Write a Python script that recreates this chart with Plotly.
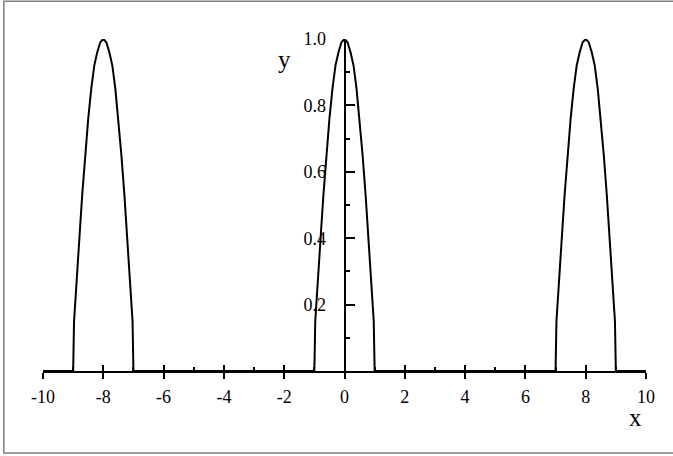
import plotly.graph_objects as go

# peaks: three identical bumps, each one unit wide on either side
peak_centers = [-8, 0, 8]
bump_dx = [-1.0, -0.97, -0.9, -0.8, -0.7, -0.6, -0.5, -0.4, -0.3, -0.2, -0.1, 0.0,
           0.1, 0.2, 0.3, 0.4, 0.5, 0.6, 0.7, 0.8, 0.9, 0.97, 1.0]
bump_y = [0.0, 0.15, 0.24, 0.39, 0.53, 0.65, 0.76, 0.85, 0.92, 0.96, 0.99, 1.0,
          0.99, 0.96, 0.92, 0.85, 0.76, 0.65, 0.53, 0.39, 0.24, 0.15, 0.0]
x_ticks = [-10, -8, -6, -4, -2, 0, 2, 4, 6, 8, 10]
x_tick_text = ["-10", "-8", "-6", "-4", "-2", "0", "2", "4", "6", "8", "10"]
y_ticks = [0.2, 0.4, 0.6, 0.8, 1.0]
y_tick_text = ["0.2", "0.4", "0.6", "0.8", "1.0"]

xs, ys = [-10], [0]
for c in peak_centers:
  xs += [c + d for d in bump_dx]
  ys += bump_y
xs.append(10)
ys.append(0)

serif = "Liberation Serif, Times New Roman, serif"

fig = go.Figure()
fig.add_scatter(x=xs, y=ys, mode="lines", line=dict(color="black", width=2),
                hoverinfo="skip", showlegend=False)
# invisible trace so the overlaid axis (upward tick halves) gets drawn
fig.add_scatter(x=[-10, 10], y=[0, 0], xaxis="x2", mode="lines",
                line=dict(color="rgba(0,0,0,0)"), hoverinfo="skip", showlegend=False)

fig.update_layout(
  width=673, height=456,
  margin=dict(l=43, r=27, t=39, b=85),
  paper_bgcolor="white", plot_bgcolor="white",
  font=dict(family=serif, size=18, color="black"),
  xaxis=dict(
    range=[-10, 10], tickvals=x_ticks, ticktext=x_tick_text, ticks="outside",
    ticklen=6, tickwidth=2, tickcolor="black", showline=True, linecolor="black",
    linewidth=2, showgrid=False, zeroline=False, ticklabelstandoff=2,
    tickfont=dict(family=serif, size=18),
  ),
  xaxis2=dict(
    overlaying="x", anchor="y", side="bottom", range=[-10, 10], tickvals=x_ticks,
    ticks="inside", ticklen=6, tickwidth=2, tickcolor="black",
    showticklabels=False, showline=False, showgrid=False, zeroline=False,
    minor=dict(tickvals=[-9, -7, -5, -3, -1, 1, 3, 5, 7, 9], ticks="inside",
               ticklen=4, tickwidth=2, tickcolor="black"),
  ),
  yaxis=dict(
    range=[0, 1], anchor="free", position=0.5,
    tickvals=y_ticks, ticktext=y_tick_text, ticks="inside", ticklen=9, tickwidth=2,
    tickcolor="black", showline=True, linecolor="black", linewidth=2,
    showgrid=False, zeroline=False, ticklabelstandoff=14,
    tickfont=dict(family=serif, size=18),
    minor=dict(tickvals=[0.1, 0.3, 0.5, 0.7, 0.9], ticks="inside", ticklen=4,
               tickwidth=2, tickcolor="black"),
  ),
  annotations=[
    dict(text="y", xref="paper", yref="paper", x=0.401, y=0.937, showarrow=False,
         font=dict(family=serif, size=25), xanchor="center", yanchor="middle"),
    dict(text="x", xref="paper", yref="paper", x=0.983, y=-0.139, showarrow=False,
         font=dict(family=serif, size=25), xanchor="center", yanchor="middle"),
  ],
  shapes=[
    dict(type="rect", xref="paper", yref="paper", x0=-0.065, x1=1.06, y0=-0.247, y1=1.114,
         line=dict(color="#7f7f7f", width=1.5), layer="below"),
  ],
)

fig.write_html("out.html", config={"displayModeBar": False},
               post_script="document.body.style.margin='0px';")
